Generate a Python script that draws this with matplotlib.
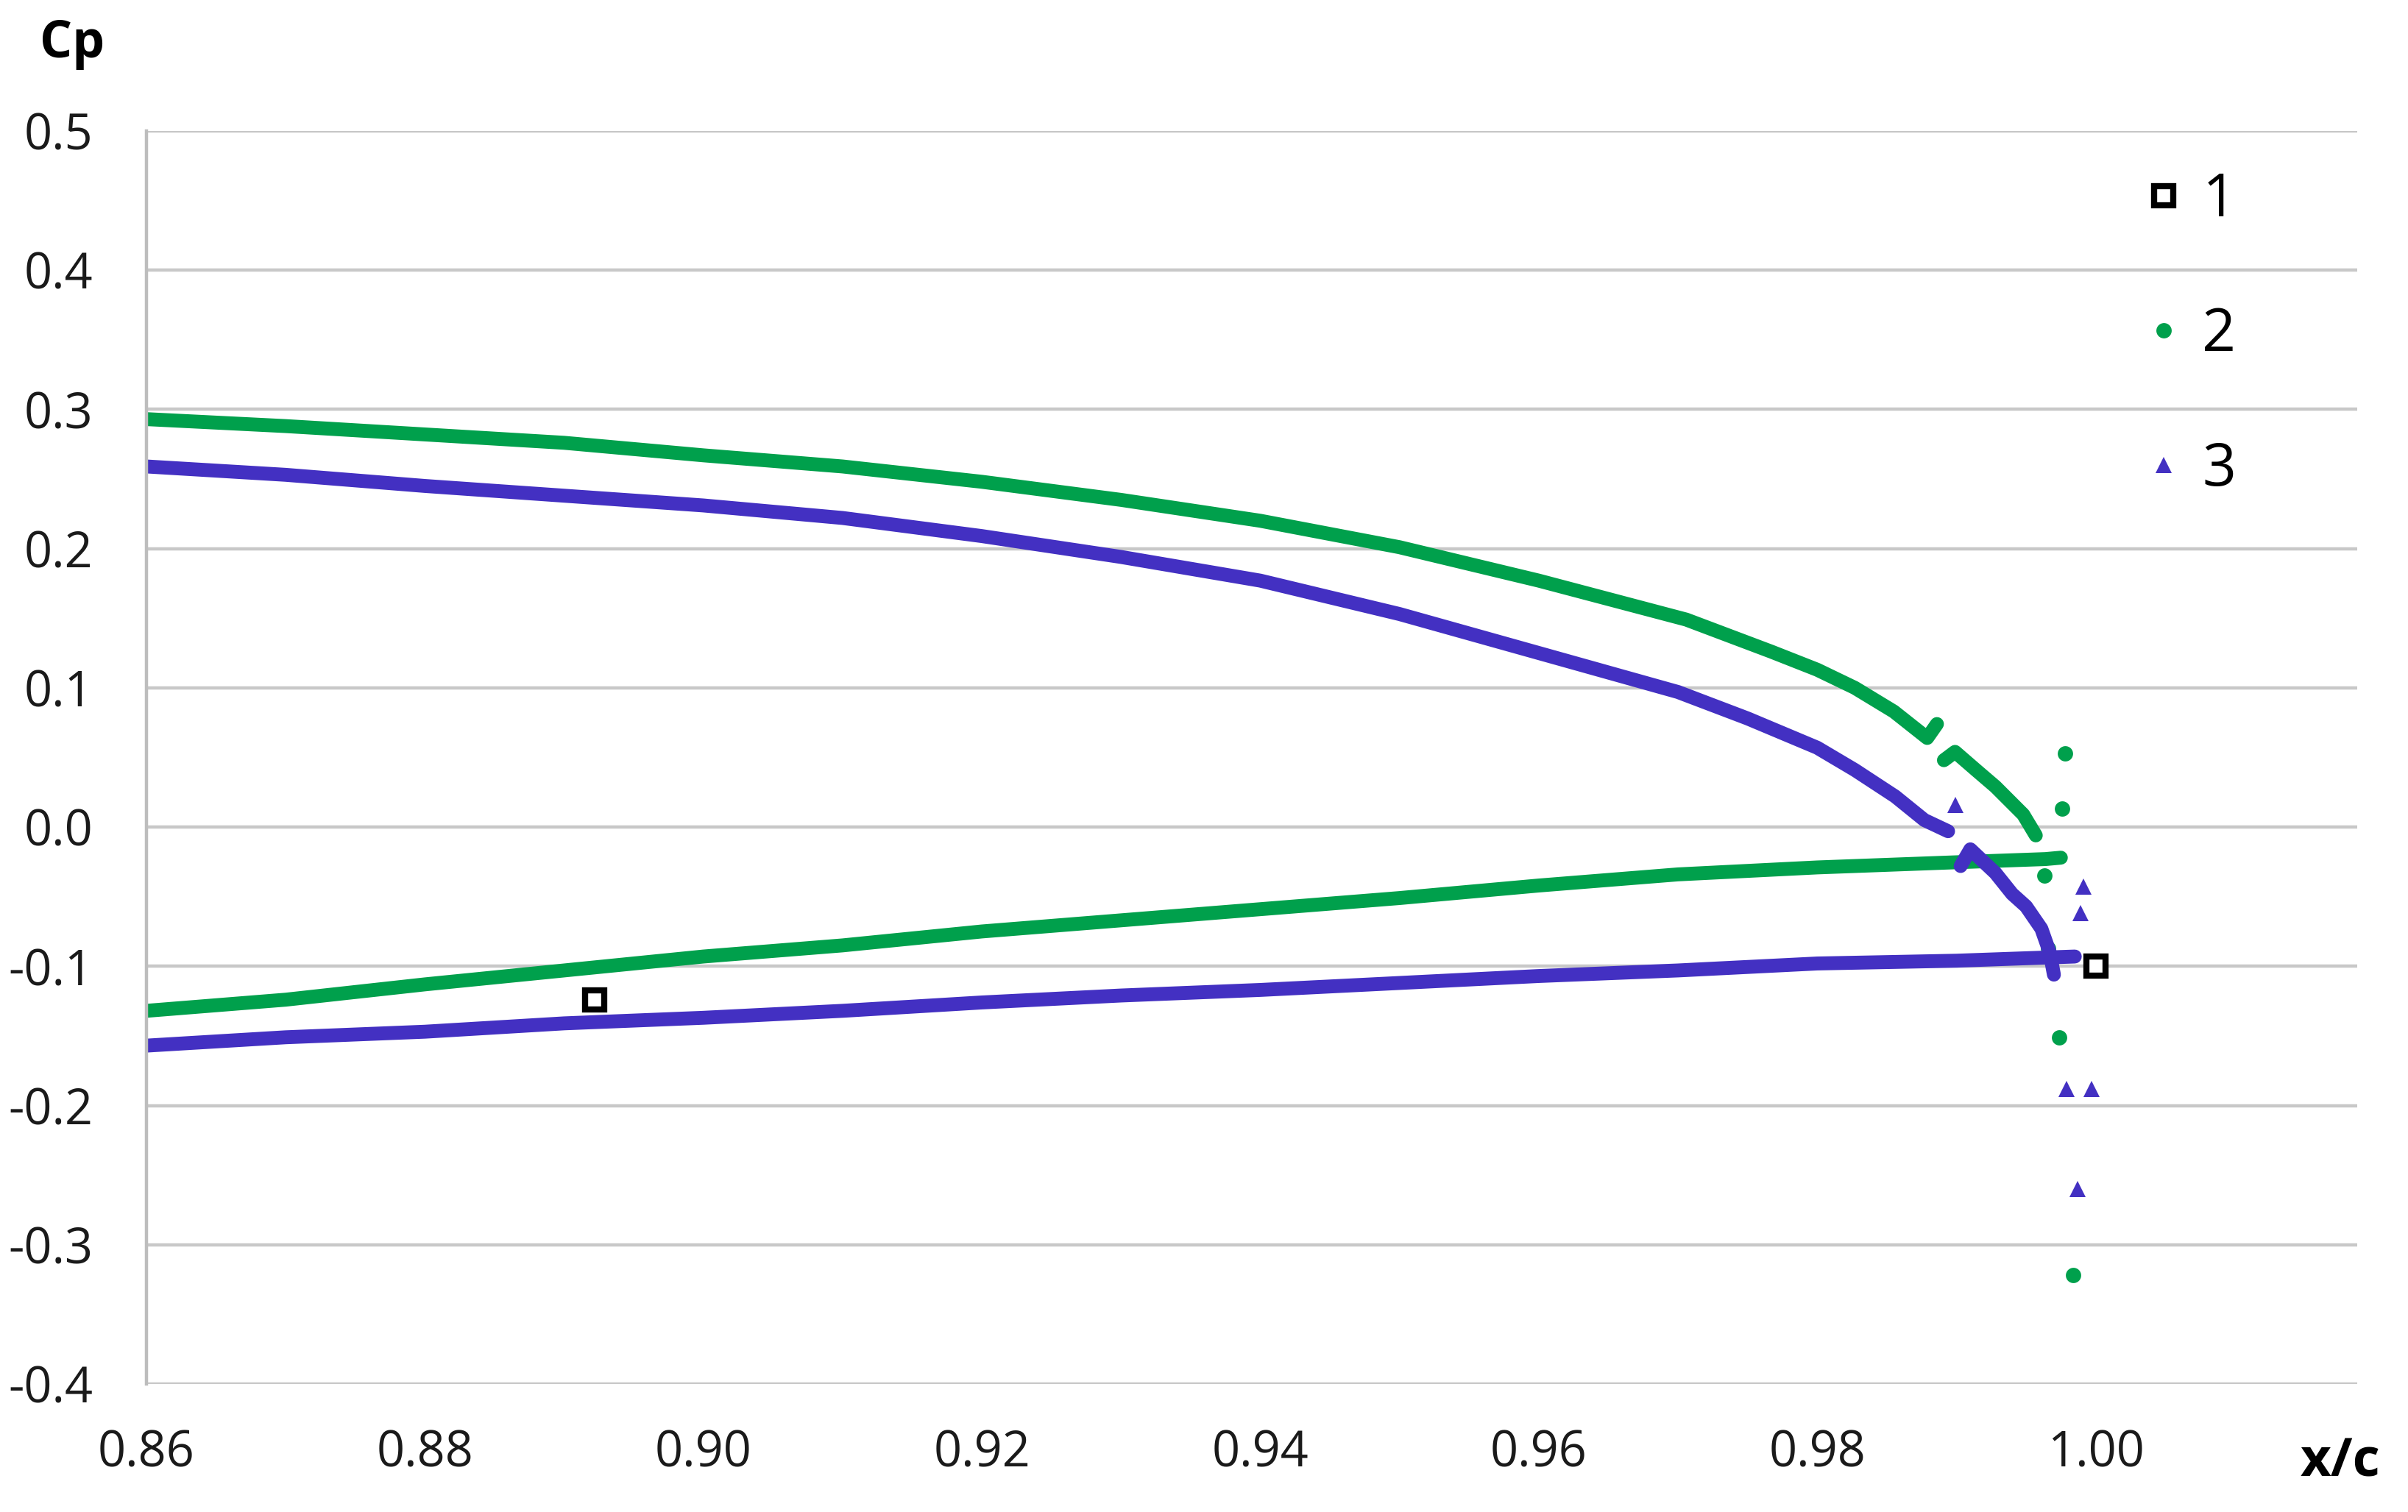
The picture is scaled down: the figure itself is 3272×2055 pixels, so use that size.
import matplotlib
matplotlib.use("Agg")
import matplotlib.pyplot as plt
from matplotlib.lines import Line2D

plt.rcParams['font.family'] = ['Open Sans', 'DejaVu Sans']
plt.rcParams['axes.unicode_minus'] = False

GREEN = '#00a04c'
BLUE = '#4330c2'

# series 1 (black squares)
s1_x = [0.8922, 1.0000]
s1_y = [-0.124, -0.100]

# series 2 (green) - upper branch, up to the small kink near x=0.989
s2_up_x = [0.860, 0.870, 0.880, 0.890, 0.900, 0.910, 0.920, 0.930, 0.940,
           0.950, 0.960, 0.9706, 0.9767, 0.980, 0.9827, 0.9855, 0.9879, 0.9886]
s2_up_y = [0.293, 0.288, 0.282, 0.276, 0.267, 0.259, 0.248, 0.235, 0.220,
           0.201, 0.177, 0.149, 0.126, 0.113, 0.100, 0.083, 0.064, 0.074]
s2_up2_x = [0.9891, 0.9899, 0.9914, 0.9928, 0.9938, 0.9948, 0.9957]
s2_up2_y = [0.048, 0.054, 0.041, 0.029, 0.019, 0.009, -0.006]
s2_lo_x = [0.860, 0.870, 0.880, 0.890, 0.900, 0.910, 0.920, 0.930, 0.940,
           0.950, 0.960, 0.970, 0.980, 0.9908, 0.9964, 0.9975]
s2_lo_y = [-0.132, -0.124, -0.113, -0.103, -0.093, -0.085, -0.075, -0.067, -0.059,
           -0.051, -0.042, -0.034, -0.029, -0.025, -0.023, -0.022]
s2_te_x = [0.9978, 0.9976, 0.9963, 0.9966, 0.9974, 0.9984]
s2_te_y = [0.053, 0.013, -0.035, -0.087, -0.151, -0.322]

# series 3 (blue triangles)
s3_up_x = [0.860, 0.870, 0.880, 0.890, 0.900, 0.910, 0.920, 0.930, 0.940,
           0.950, 0.960, 0.970, 0.975, 0.980, 0.9827, 0.9856, 0.9877, 0.9894]
s3_up_y = [0.259, 0.253, 0.245, 0.238, 0.231, 0.222, 0.209, 0.194, 0.177,
           0.153, 0.125, 0.097, 0.078, 0.057, 0.041, 0.022, 0.005, -0.003]
s3_br_x = [0.9903, 0.9910, 0.9928, 0.9940, 0.9950, 0.9961, 0.9967, 0.9970]
s3_br_y = [-0.028, -0.016, -0.033, -0.048, -0.057, -0.073, -0.090, -0.106]
s3_lo_x = [0.860, 0.870, 0.880, 0.890, 0.900, 0.910, 0.920, 0.930, 0.940,
           0.950, 0.960, 0.970, 0.980, 0.990, 0.9985]
s3_lo_y = [-0.157, -0.151, -0.147, -0.141, -0.137, -0.132, -0.126, -0.121, -0.117,
           -0.112, -0.107, -0.103, -0.098, -0.096, -0.093]
s3_te_x = [0.9899, 0.9991, 0.9989, 0.9979, 0.9997, 0.9987]
s3_te_y = [0.016, -0.043, -0.062, -0.188, -0.188, -0.260]

y_ticks = [0.5, 0.4, 0.3, 0.2, 0.1, 0.0, -0.1, -0.2, -0.3, -0.4]
x_ticks = [0.86, 0.88, 0.90, 0.92, 0.94, 0.96, 0.98, 1.00]

fig = plt.figure(figsize=(16.36, 10.275), dpi=200)
ax = fig.add_axes([0.0608, 0.0847, 0.9182, 0.8287])

for sp in ['top', 'right', 'bottom']:
    ax.spines[sp].set_visible(False)
ax.spines['left'].set_color('#bdbdbd')
ax.spines['left'].set_linewidth(1.6)
ax.yaxis.grid(True, color='#c8c8c8', linewidth=1.6)
ax.set_axisbelow(True)

band = dict(linewidth=6.8, solid_capstyle='round', solid_joinstyle='round')
ax.plot(s2_up_x, s2_up_y, color=GREEN, **band)
ax.plot(s2_up2_x, s2_up2_y, color=GREEN, **band)
ax.plot(s2_lo_x, s2_lo_y, color=GREEN, **band)
ax.plot(s2_te_x, s2_te_y, 'o', color=GREEN, markersize=7.5, markeredgewidth=0)

ax.plot(s3_up_x, s3_up_y, color=BLUE, **band)
ax.plot(s3_br_x, s3_br_y, color=BLUE, **band)
ax.plot(s3_lo_x, s3_lo_y, color=BLUE, **band)
ax.plot(s3_te_x, s3_te_y, '^', color=BLUE, markersize=8, markeredgewidth=0)

ax.plot(s1_x, s1_y, 's', markerfacecolor='white', markeredgecolor='black',
        markersize=9.5, markeredgewidth=3, zorder=5)

ax.set_xlim(0.86, 1.0188)
ax.set_ylim(-0.4, 0.5)
ax.set_xticks(x_ticks)
ax.set_xticklabels([f'{v:.2f}' for v in x_ticks])
ax.set_yticks(y_ticks)
ax.set_yticklabels([f'{v:.1f}' for v in y_ticks])
ax.tick_params(axis='both', length=0, labelsize=24, colors='#1a1a1a')
ax.tick_params(axis='y', pad=26)
ax.tick_params(axis='x', pad=22)

fig.text(0.030, 0.971, 'Cp', fontsize=25, fontweight='bold', ha='center', va='center')
fig.text(0.972, 0.033, 'x/c', fontsize=26, fontweight='bold', ha='center', va='center')

handles = [
    Line2D([], [], linestyle='none', marker='s', markerfacecolor='white',
           markeredgecolor='black', markersize=9.5, markeredgewidth=3),
    Line2D([], [], linestyle='none', marker='o', color=GREEN, markersize=7.5,
           markeredgewidth=0),
    Line2D([], [], linestyle='none', marker='^', color=BLUE, markersize=8,
           markeredgewidth=0),
]
ax.legend(handles, ['1', '2', '3'], loc='upper left',
          bbox_to_anchor=(0.869, 0.922), bbox_transform=fig.transFigure,
          frameon=False, fontsize=29, labelspacing=1.27, handlelength=0.6,
          handletextpad=0.35)

fig.savefig('out.png', dpi=200, facecolor='white')
